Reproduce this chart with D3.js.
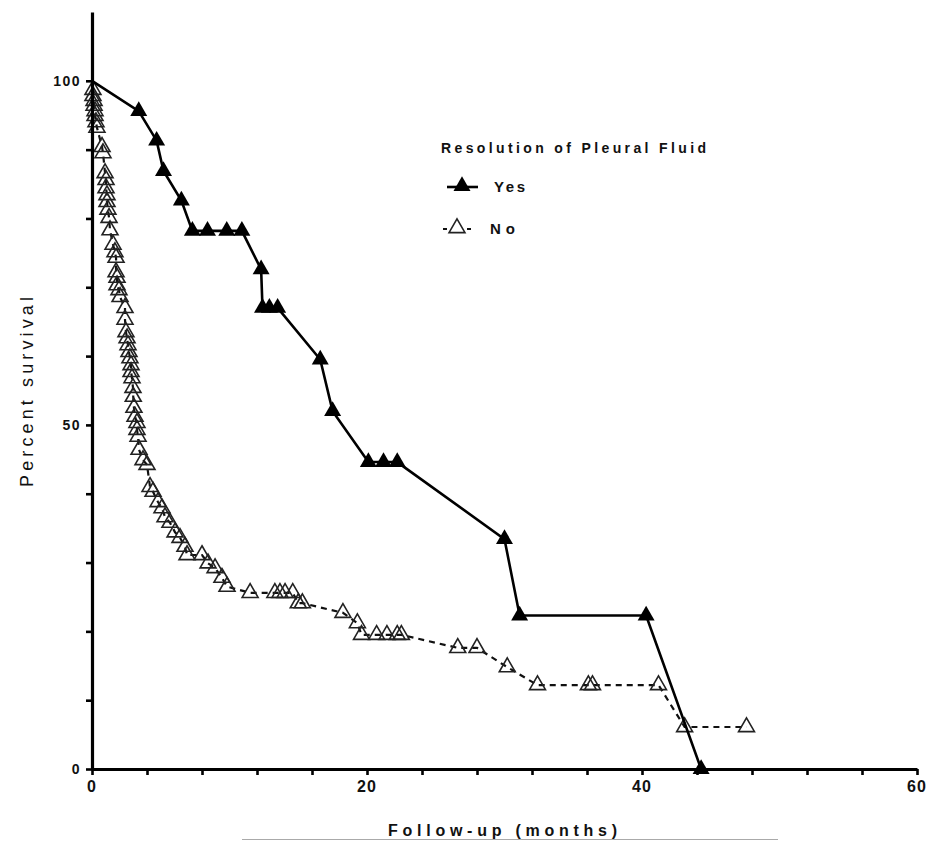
<!DOCTYPE html>
<html>
<head>
<meta charset="utf-8">
<script src="https://cdn.jsdelivr.net/npm/d3@7"></script>
<style>
  body { margin: 0; background: #fff; }
  text { font-family: "Liberation Sans", Arial, sans-serif; fill: #111; }
</style>
</head>
<body>
<div id="graph"></div>
<script>
// survival data
var yesMonths = [0, 3.4, 4.7, 5.2, 6.5, 7.3, 8.4, 9.8, 10.9, 12.3, 12.4, 12.9, 13.5, 16.6, 17.5, 20.1, 21.2, 22.2, 30.0, 31.1, 40.3, 44.3];
var yesSurvival = [100, 95.6, 91.3, 86.9, 82.6, 78.2, 78.2, 78.2, 78.2, 72.6, 67.0, 67.0, 67.0, 59.5, 52.0, 44.6, 44.6, 44.6, 33.4, 22.3, 22.3, 0];

var noMonths = [0, 0.07, 0.07, 0.15, 0.15, 0.22, 0.22, 0.29, 0.36, 0.73, 0.8, 0.95, 1.02, 1.02, 1.09, 1.09, 1.16, 1.24, 1.31,
  1.53, 1.67, 1.75, 1.75, 1.82, 1.82, 1.96, 2.04, 2.4, 2.4, 2.47, 2.55, 2.62, 2.69, 2.76, 2.84, 2.84, 2.91, 2.98, 3.0,
  3.05, 3.13, 3.27, 3.27, 3.35, 3.42, 3.71, 4.0, 4.22, 4.44, 4.8, 5.09, 5.31, 5.67, 6.04, 6.4, 6.76, 6.91, 8.0, 8.44,
  8.95, 9.45, 9.82, 11.5, 13.3, 13.67, 14.04, 14.6, 15.0, 15.3, 18.25, 19.3, 19.6, 20.7, 21.45, 22.2, 22.5, 26.6, 28.0,
  30.2, 32.4, 36.1, 36.4, 41.2, 43.1, 47.6];
var noSurvival = [100, 98.7, 97.8, 97.1, 96.4, 95.6, 94.9, 94.0, 93.2, 90.4, 89.5, 86.6, 85.6, 84.4, 83.4, 82.4, 81.3, 80.1, 78.3,
  76.2, 75.1, 74.3, 72.2, 71.4, 70.3, 69.6, 68.6, 67.0, 65.3, 63.5, 62.6, 61.6, 60.6, 59.7, 58.7, 57.7, 56.8, 55.4, 54.1,
  52.5, 51.2, 50.3, 49.3, 48.3, 46.4, 44.9, 44.2, 41.0, 40.3, 38.8, 37.9, 36.6, 35.8, 34.4, 33.6, 32.3, 31.1, 31.1, 29.9,
  29.2, 27.8, 26.5, 25.6, 25.6, 25.6, 25.6, 25.6, 24.1, 24.1, 22.7, 21.2, 19.5, 19.5, 19.5, 19.5, 19.5, 17.6, 17.6,
  14.8, 12.2, 12.2, 12.2, 12.2, 6.1, 6.1];

var xMinorTicks = d3.range(0, 61, 4);
var xMajorTicks = [0, 20, 40, 60];
var yMinorTicks = d3.range(0, 101, 10);
var yMajorTicks = [0, 50, 100];
var seriesNames = ["Yes", "No"];

window.onload = start;

function start() {
    var width = 928;
    var height = 841;

    var svg = d3.select('#graph')
        .append('svg')
        .attr('width', width)
        .attr('height', height);

    var xScale = d3.scaleLinear().domain([0, 60]).range([92, 917]);
    var yScale = d3.scaleLinear().domain([0, 110]).range([769, 12]);

    var yesData = yesMonths.map(function(m, i) { return { x: m, y: yesSurvival[i] }; });
    var noData = noMonths.map(function(m, i) { return { x: m, y: noSurvival[i] }; });

    var line = d3.line()
        .x(function(d) { return xScale(d.x); })
        .y(function(d) { return yScale(d.y); });

    var tri = d3.symbol().type(d3.symbolTriangle).size(110);

    // "No" group - dashed line with open triangles
    svg.append('path')
        .datum(noData)
        .attr('d', line)
        .attr('fill', 'none')
        .attr('stroke', '#111')
        .attr('stroke-width', 2.2)
        .attr('stroke-dasharray', '6,5');

    svg.append('g')
        .selectAll('path')
        .data(noData.slice(1))
        .enter()
        .append('path')
        .attr('d', tri)
        .attr('transform', function(d) { return 'translate(' + xScale(d.x) + ',' + yScale(d.y) + ')'; })
        .attr('fill', 'none')
        .attr('stroke', '#222')
        .attr('stroke-width', 1.6);

    // "Yes" group - solid line with filled triangles
    svg.append('path')
        .datum(yesData)
        .attr('d', line)
        .attr('fill', 'none')
        .attr('stroke', '#000')
        .attr('stroke-width', 2.6);

    svg.append('g')
        .selectAll('path')
        .data(yesData.slice(1))
        .enter()
        .append('path')
        .attr('d', d3.symbol().type(d3.symbolTriangle).size(125))
        .attr('transform', function(d) { return 'translate(' + xScale(d.x) + ',' + yScale(d.y) + ')'; })
        .attr('fill', '#000');

    // axes
    var xMinor = d3.axisBottom(xScale).tickValues(xMinorTicks).tickSize(6).tickSizeOuter(0).tickFormat('');
    var yMinor = d3.axisLeft(yScale).tickValues(yMinorTicks).tickSize(6).tickSizeOuter(0).tickFormat('');

    var gx = svg.append('g')
        .attr('transform', 'translate(0,' + yScale(0) + ')')
        .call(xMinor);
    var gy = svg.append('g')
        .attr('transform', 'translate(' + xScale(0) + ',0)')
        .call(yMinor);

    [gx, gy].forEach(function(g) {
        g.select('.domain').attr('stroke', '#000').attr('stroke-width', 3.2);
        g.selectAll('.tick line').attr('stroke', '#000').attr('stroke-width', 2.6);
    });

    svg.append('g')
        .selectAll('text')
        .data(xMajorTicks)
        .enter()
        .append('text')
        .attr('x', function(d) { return xScale(d); })
        .attr('y', 792)
        .attr('text-anchor', 'middle')
        .style('font-family', '"Liberation Sans Narrow", "Liberation Sans", sans-serif')
        .style('font-weight', 'bold')
        .style('font-size', '16px')
        .style('letter-spacing', '1px')
        .text(function(d) { return d; });

    svg.append('g')
        .selectAll('text')
        .data(yMajorTicks)
        .enter()
        .append('text')
        .attr('x', 81)
        .attr('y', function(d) { return yScale(d) + 5; })
        .attr('text-anchor', 'end')
        .style('font-weight', 'bold')
        .style('font-size', '14px')
        .style('letter-spacing', '1.5px')
        .text(function(d) { return d; });

    // axis titles
    svg.append('text')
        .attr('transform', 'translate(33,392) rotate(-90)')
        .attr('text-anchor', 'middle')
        .attr('textLength', 190)
        .attr('lengthAdjust', 'spacing')
        .style('font-size', '18px')
        .text('Percent survival');

    svg.append('text')
        .attr('x', 388)
        .attr('y', 836)
        .attr('textLength', 229)
        .attr('lengthAdjust', 'spacing')
        .style('font-weight', 'bold')
        .style('font-size', '16px')
        .text('Follow-up (months)');

    svg.append('line')
        .attr('x1', 242).attr('x2', 778)
        .attr('y1', 839.5).attr('y2', 839.5)
        .attr('stroke', '#aaa')
        .attr('stroke-width', 1);

    // legend
    var legend = svg.append('g');
    legend.append('text')
        .attr('x', 441)
        .attr('y', 153)
        .attr('textLength', 265)
        .attr('lengthAdjust', 'spacing')
        .style('font-weight', 'bold')
        .style('font-size', '14px')
        .text('Resolution of Pleural Fluid');

    legend.append('line')
        .attr('x1', 447).attr('x2', 478)
        .attr('y1', 187).attr('y2', 187)
        .attr('stroke', '#000').attr('stroke-width', 2.6);
    legend.append('path')
        .attr('d', d3.symbol().type(d3.symbolTriangle).size(125))
        .attr('transform', 'translate(462,186)')
        .attr('fill', '#000');
    legend.append('text')
        .attr('x', 494).attr('y', 192)
        .attr('textLength', 31)
        .attr('lengthAdjust', 'spacing')
        .style('font-weight', 'bold')
        .style('font-size', '15px')
        .text(seriesNames[0]);

    legend.append('line')
        .attr('x1', 443).attr('x2', 472)
        .attr('y1', 229).attr('y2', 229)
        .attr('stroke', '#111').attr('stroke-width', 2)
        .attr('stroke-dasharray', '4,4');
    legend.append('path')
        .attr('d', tri)
        .attr('transform', 'translate(457,228)')
        .attr('fill', '#fff')
        .attr('stroke', '#222')
        .attr('stroke-width', 1.6);
    legend.append('text')
        .attr('x', 490).attr('y', 234)
        .attr('textLength', 25)
        .attr('lengthAdjust', 'spacing')
        .style('font-weight', 'bold')
        .style('font-size', '15px')
        .text(seriesNames[1]);
}
</script>
</body>
</html>
